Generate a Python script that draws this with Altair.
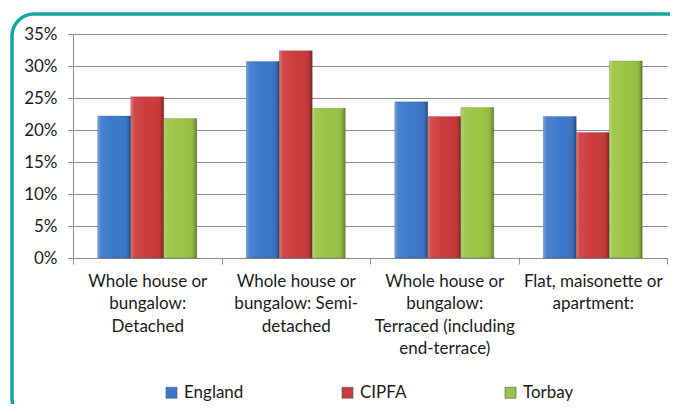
import altair as alt
import pandas as pd

categories = [
    "Whole house or bungalow: Detached",
    "Whole house or bungalow: Semi-detached",
    "Whole house or bungalow: Terraced (including end-terrace)",
    "Flat, maisonette or apartment:",
]
label_lines = [
    ["Whole house or", "bungalow:", "Detached"],
    ["Whole house or", "bungalow: Semi-", "detached"],
    ["Whole house or", "bungalow:", "Terraced (including", "end-terrace)"],
    ["Flat, maisonette or", "apartment:"],
]
series = ["England", "CIPFA", "Torbay"]
england = [22.2, 30.7, 24.4, 22.1]
cipfa = [25.2, 32.4, 22.1, 19.6]
torbay = [21.8, 23.4, 23.5, 30.8]
colors = ["#3B78CB", "#CC3B3B", "#9AC443"]
y_ticks = [0, 5, 10, 15, 20, 25, 30, 35]

rows = []
for name, vals in zip(series, [england, cipfa, torbay]):
    for c, v in zip(categories, vals):
        rows.append({"category": c, "series": name, "value": v})
df = pd.DataFrame(rows)

FONT = "Lato"
FS = 17
FW = 400

def js_list(lst):
    return "[" + ",".join("'" + s.replace("'", "\\'") + "'" for s in lst) + "]"

expr = "datum.label"
for c, lines in reversed(list(zip(categories, label_lines))):
    expr = f"datum.label == '{c}' ? {js_list(lines)} : ({expr})"

x_enc = alt.X(
    "category:N",
    sort=categories,
    scale=alt.Scale(paddingInner=0, paddingOuter=0),
    axis=alt.Axis(
        title=None,
        labelAngle=0,
        labelExpr=expr,
        tickBand="extent",
        tickSize=6,
        tickColor="#8a8a8a",
        domainColor="#8a8a8a",
        labelPadding=9,
        labelFont=FONT,
        labelFontSize=FS,
        labelFontWeight=FW,
        labelColor="#1a1a1a",
        labelLineHeight=22.5,
        labelLimit=300,
        grid=False,
    ),
)
xo_enc = alt.XOffset(
    "series:N", sort=series, scale=alt.Scale(paddingInner=0, paddingOuter=0.75)
)
y_enc = alt.Y(
    "value:Q",
    scale=alt.Scale(domain=[0, 35], nice=False),
    axis=alt.Axis(
        title=None,
        values=y_ticks,
        labelExpr="datum.value + '%'",
        tickSize=5,
        tickColor="#8a8a8a",
        domainColor="#8a8a8a",
        gridColor="#8f8f8f",
        gridWidth=1,
        labelPadding=11,
        labelFont=FONT,
        labelFontSize=FS,
        labelFontWeight=FW,
        labelColor="#1a1a1a",
    ),
)

bars = alt.Chart(df).mark_bar(strokeWidth=0).encode(
    x=x_enc,
    xOffset=xo_enc,
    y=y_enc,
    color=alt.Color(
        "series:N",
        sort=series,
        scale=alt.Scale(domain=series, range=colors),
        legend=alt.Legend(
            title=None,
            orient="none",
            legendX=90,
            legendY=350,
            direction="horizontal",
            symbolType="square",
            symbolSize=121,
            symbolStrokeWidth=0.6,
            symbolStrokeColor="#555555",
            labelFont=FONT,
            labelFontSize=FS,
            labelFontWeight=FW,
            labelColor="#1a1a1a",
            labelOffset=4,
            columnPadding=95,
        ),
    ),
)

shade = alt.Chart(df).mark_bar(
    fill={
        "gradient": "linear",
        "x1": 0, "y1": 0, "x2": 1, "y2": 0,
        "stops": [
            {"offset": 0, "color": "rgba(255,255,255,0.35)"},
            {"offset": 0.1, "color": "rgba(255,255,255,0.08)"},
            {"offset": 0.5, "color": "rgba(255,255,255,0.0)"},
            {"offset": 0.88, "color": "rgba(0,0,0,0.06)"},
            {"offset": 1, "color": "rgba(0,0,0,0.35)"},
        ],
    },
    stroke="rgba(0,0,0,0.25)",
    strokeWidth=0.6,
).encode(x=x_enc, xOffset=xo_enc, y=y_enc)

frame = alt.Chart(pd.DataFrame({"k": [0]})).mark_rect(
    fill="transparent",
    stroke="#14A7A1",
    strokeWidth=3.5,
    cornerRadius=22,
    clip=False,
).encode(
    x=alt.value(-61), x2=alt.value(620), y=alt.value(-20), y2=alt.value(386)
)

chart = (
    alt.layer(bars, shade, frame)
    .properties(
        width=594,
        height=224,
        autosize=alt.AutoSizeParams(type="none"),
        padding={"left": 65, "top": 26, "right": 3, "bottom": 146},
        background="white",
    )
    .configure_view(stroke=None)
)

chart.save("out.html", embed_options={"renderer": "svg", "actions": False})
